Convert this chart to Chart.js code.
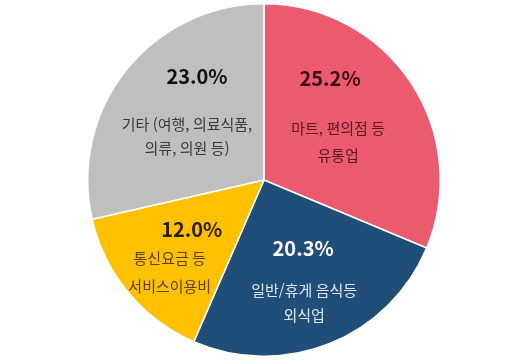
<!DOCTYPE html>
<html lang="ko">
<head>
<meta charset="UTF-8">
<title>소비 지출 비중</title>
<script src="https://cdn.jsdelivr.net/npm/chart.js"></script>
<style>
  html, body { margin: 0; padding: 0; background: #fff; }
  #wrap { width: 507px; height: 362px; }
</style>
</head>
<body>
<div id="wrap">
  <canvas id="myChart" width="507" height="362"></canvas>
</div>
<script>
// data
var categories = ['마트, 편의점 등\n유통업', '일반/휴게 음식등\n외식업', '통신요금 등\n서비스이용비', '기타 (여행, 의료식품,\n의류, 의원 등)']
var shares = [25.2, 20.3, 12.0, 23.0]

// styling
var sliceColors = ['#EB5A6E', '#1F4E79', '#FFC000', '#BFBFBF']
var pctColors = ['#3a0c14', '#ffffff', '#2a1e00', '#111111']
var textColors = ['#5a1824', '#dfe6ef', '#5a4300', '#3a3a3a']
// label anchor in units of radius (x, y) and x shift of the text lines
var labelAnchor = [[0.375, -0.574, 8], [0.222, 0.386, 1], [-0.41, 0.278, -22], [-0.38, -0.585, -10]]
var lineGap = [[49, 76], [42, 67], [29, 57], [47, 71]]

const sliceLabels = {
  id: 'sliceLabels',
  afterDatasetsDraw(chart) {
    var ctx = chart.ctx
    var meta = chart.getDatasetMeta(0)
    meta.data.forEach(function (arc, i) {
      var r = arc.outerRadius
      var x = arc.x + labelAnchor[i][0] * r
      var y = arc.y + labelAnchor[i][1] * r
      ctx.save()
      ctx.textAlign = 'center'
      ctx.textBaseline = 'middle'
      ctx.fillStyle = pctColors[i]
      ctx.font = 'bold 20px "Noto Sans CJK KR", "Open Sans", sans-serif'
      ctx.fillText(shares[i].toFixed(1) + '%', x, y)
      ctx.fillStyle = textColors[i]
      ctx.font = '15px "Noto Sans CJK KR", sans-serif'
      var lines = categories[i].split('\n')
      lines.forEach(function (t, j) {
        ctx.fillText(t, x + labelAnchor[i][2], y + lineGap[i][j])
      })
      ctx.restore()
    })
  }
}

const config = {
  type: 'pie',
  data: {
    labels: categories,
    datasets: [{
      data: shares,
      backgroundColor: sliceColors,
      borderColor: '#ffffff',
      borderWidth: 1.5
    }]
  },
  options: {
    responsive: false,
    animation: false,
    layout: { padding: { left: 21, right: 0, top: 3, bottom: 5 } },
    plugins: {
      legend: { display: false },
      tooltip: { enabled: false }
    }
  },
  plugins: [sliceLabels]
}

var myChart = new Chart(document.getElementById('myChart'), config)
</script>
</body>
</html>
